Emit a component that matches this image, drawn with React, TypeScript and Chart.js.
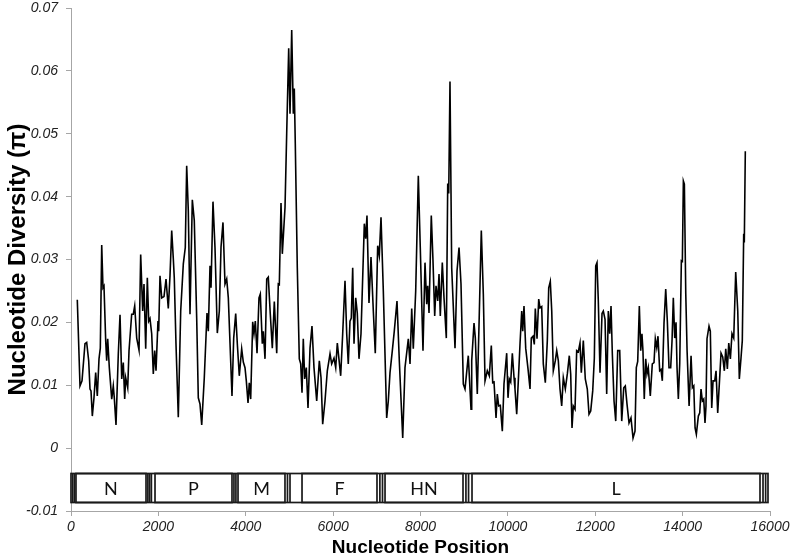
import { useEffect, useRef } from 'react';
import { Chart, registerables } from 'chart.js';

Chart.register(...registerables);

// Window midpoints (nt) and nucleotide diversity (pi)
const positions = [
  144, 206, 252, 320, 359, 405, 435, 458, 488, 526,
  565, 602, 641, 671, 703, 732, 755, 794, 817, 840,
  877, 932, 968, 991, 1030, 1083, 1122, 1161, 1197, 1229,
  1252, 1298, 1328, 1389, 1426, 1458, 1504, 1557, 1595, 1641,
  1671, 1710, 1747, 1779, 1808, 1847, 1884, 1916, 1946, 1991,
  2007, 2037, 2076, 2129, 2175, 2227, 2266, 2305, 2342, 2364,
  2403, 2456, 2511, 2571, 2616, 2648, 2685, 2724, 2777, 2822,
  2877, 2914, 2953, 2992, 3051, 3113, 3143, 3182, 3205, 3250,
  3296, 3349, 3395, 3434, 3479, 3525, 3564, 3601, 3685, 3724,
  3770, 3807, 3852, 3907, 3944, 3983, 4013, 4052, 4081, 4113,
  4159, 4189, 4219, 4258, 4303, 4333, 4379, 4402, 4441, 4480,
  4516, 4562, 4608, 4654, 4709, 4745, 4768, 4807, 4837, 4899,
  4937, 4983, 5013, 5052, 5089, 5111, 5134, 5180, 5226, 5258,
  5288, 5317, 5349, 5386, 5425, 5471, 5516, 5562, 5624, 5684,
  5723, 5761, 5814, 5867, 5929, 5967, 6020, 6059, 6096, 6173,
  6219, 6272, 6311, 6347, 6386, 6416, 6448, 6478, 6517, 6553,
  6592, 6638, 6714, 6746, 6775, 6821, 6867, 6920, 6965, 7020,
  7057, 7096, 7149, 7226, 7263, 7302, 7355, 7400, 7462, 7515,
  7593, 7645, 7721, 7760, 7799, 7835, 7890, 7950, 7995, 8057,
  8103, 8142, 8165, 8195, 8247, 8286, 8325, 8355, 8394, 8424,
  8453, 8499, 8538, 8591, 8623, 8646, 8675, 8714, 8790, 8836,
  8882, 8927, 8980, 9019, 9094, 9156,
  9172, 9225, 9255, 9300, 9346, 9392, 9438, 9477, 9529, 9575,
  9621, 9653, 9683, 9729, 9758, 9790, 9827, 9873, 9911, 9973,
  10003, 10033, 10065, 10102, 10141, 10163, 10202, 10239, 10278, 10317,
  10340, 10369, 10408, 10461, 10507, 10536, 10575, 10605, 10628, 10667,
  10706, 10735, 10774, 10811, 10857, 10903, 10935, 10971, 11004, 11040,
  11086, 11118, 11155, 11193, 11232, 11269, 11315, 11361, 11406, 11438,
  11468, 11498, 11537, 11575, 11612, 11651, 11681, 11727, 11772, 11818,
  11857, 11896, 11942, 11979, 12011, 12040, 12070, 12109, 12155, 12185,
  12224, 12262, 12299, 12331, 12361, 12391, 12430, 12469, 12514, 12560,
  12606, 12652, 12688, 12727, 12773, 12818, 12865, 12910, 12940, 12972,
  13009, 13041, 13069, 13092, 13122, 13155, 13184, 13214, 13260, 13306,
  13345, 13375, 13407, 13436, 13475, 13505, 13535, 13574, 13613, 13650,
  13688, 13727, 13757, 13787, 13819, 13849, 13872, 13902, 13934, 13971,
  13994, 14017, 14040, 14072, 14102, 14148, 14193, 14223, 14255, 14285,
  14314, 14360, 14392, 14421, 14452, 14483, 14512, 14535, 14558, 14604,
  14634, 14666, 14696, 14735, 14765, 14803, 14840, 14879, 14918, 14955,
  14987, 15024, 15056, 15093, 15130, 15170, 15215, 15262, 15298, 15336,
  15366, 15398, 15412, 15435,
];

const diversity = [
  0.0236, 0.0099, 0.0107, 0.0166, 0.0168, 0.0139, 0.0094, 0.0091, 0.0051, 0.0080,
  0.0120, 0.0083, 0.0142, 0.0159, 0.0323, 0.0255, 0.0258, 0.0171, 0.0139, 0.0174,
  0.0128, 0.0078, 0.0099, 0.0080, 0.0037, 0.0150, 0.0212, 0.0110, 0.0136, 0.0078,
  0.0112, 0.0096, 0.0155, 0.0213, 0.0213, 0.0226, 0.0175, 0.0156, 0.0308, 0.0218,
  0.0261, 0.0158, 0.0271, 0.0202, 0.0206, 0.0182, 0.0118, 0.0155, 0.0123, 0.0202,
  0.0186, 0.0274, 0.0239, 0.0241, 0.0269, 0.0222, 0.0274, 0.0346, 0.0301, 0.0271,
  0.0166, 0.0049, 0.0218, 0.0293, 0.0319, 0.0449, 0.0378, 0.0213, 0.0395, 0.0362,
  0.0207, 0.0080, 0.0070, 0.0037, 0.0112, 0.0215, 0.0186, 0.0290, 0.0255, 0.0392,
  0.0319, 0.0183, 0.0218, 0.0320, 0.0359, 0.0261, 0.0269, 0.0239, 0.0083, 0.0175,
  0.0214, 0.0166, 0.0115, 0.0158, 0.0137, 0.0128, 0.0107, 0.0072, 0.0104, 0.0078,
  0.0201, 0.0182, 0.0202, 0.0151, 0.0239, 0.0245, 0.0166, 0.0186, 0.0142, 0.0269,
  0.0272, 0.0213, 0.0159, 0.0233, 0.0151, 0.0261, 0.0260, 0.0390, 0.0309, 0.0383,
  0.0500, 0.0636, 0.0532, 0.0665, 0.0532, 0.0572, 0.0484, 0.0287, 0.0142, 0.0134,
  0.0088, 0.0174, 0.0110, 0.0128, 0.0064, 0.0159, 0.0194, 0.0128, 0.0075, 0.0139,
  0.0112, 0.0038, 0.0075, 0.0123, 0.0150, 0.0134, 0.0143, 0.0128, 0.0167, 0.0115,
  0.0182, 0.0266, 0.0182, 0.0134, 0.0202, 0.0207, 0.0287, 0.0166, 0.0239, 0.0215,
  0.0142, 0.0182, 0.0357, 0.0333, 0.0370, 0.0231, 0.0304, 0.0218, 0.0151, 0.0322,
  0.0306, 0.0367, 0.0250, 0.0048, 0.0075, 0.0120, 0.0155, 0.0186, 0.0234, 0.0139,
  0.0016, 0.0128, 0.0174, 0.0134, 0.0222, 0.0158, 0.0250, 0.0433, 0.0319, 0.0155,
  0.0295, 0.0229, 0.0258, 0.0215, 0.0370, 0.0298, 0.0210, 0.0258, 0.0234, 0.0277,
  0.0210, 0.0295, 0.0239, 0.0175, 0.0421, 0.0405, 0.0583, 0.0287, 0.0159, 0.0282,
  0.0319, 0.0261, 0.0102, 0.0094, 0.0147, 0.0062,
  0.0139, 0.0199, 0.0175, 0.0086, 0.0214, 0.0346, 0.0245, 0.0107, 0.0123, 0.0115,
  0.0163, 0.0104, 0.0105, 0.0048, 0.0086, 0.0067, 0.0068, 0.0027, 0.0102, 0.0151,
  0.0080, 0.0110, 0.0105, 0.0151, 0.0112, 0.0094, 0.0054, 0.0107, 0.0166, 0.0218,
  0.0186, 0.0226, 0.0159, 0.0126, 0.0094, 0.0175, 0.0178, 0.0165, 0.0222, 0.0174,
  0.0237, 0.0223, 0.0225, 0.0134, 0.0104, 0.0171, 0.0255, 0.0265, 0.0218, 0.0123,
  0.0139, 0.0155, 0.0139, 0.0094, 0.0067, 0.0112, 0.0094, 0.0118, 0.0147, 0.0118,
  0.0032, 0.0067, 0.0062, 0.0155, 0.0153, 0.0167, 0.0120, 0.0171, 0.0110, 0.0094,
  0.0054, 0.0059, 0.0091, 0.0143, 0.0290, 0.0295, 0.0234, 0.0120, 0.0214, 0.0218,
  0.0205, 0.0086, 0.0218, 0.0182, 0.0226, 0.0150, 0.0075, 0.0043, 0.0155, 0.0155,
  0.0043, 0.0096, 0.0099, 0.0070, 0.0040, 0.0048, 0.0016, 0.0027, 0.0128, 0.0138,
  0.0226, 0.0155, 0.0182, 0.0155, 0.0078, 0.0142, 0.0118, 0.0128, 0.0083, 0.0134,
  0.0136, 0.0174, 0.0160, 0.0178, 0.0123, 0.0125, 0.0107, 0.0199, 0.0253, 0.0202,
  0.0128, 0.0128, 0.0170, 0.0239, 0.0175, 0.0200, 0.0128, 0.0078, 0.0135, 0.0298,
  0.0297, 0.0425, 0.0420, 0.0245, 0.0155, 0.0067, 0.0147, 0.0096, 0.0099, 0.0032,
  0.0022, 0.0051, 0.0056, 0.0094, 0.0075, 0.0078, 0.0040, 0.0067, 0.0174, 0.0194,
  0.0186, 0.0064, 0.0107, 0.0107, 0.0123, 0.0056, 0.0102, 0.0151, 0.0145, 0.0123,
  0.0158, 0.0126, 0.0167, 0.0142, 0.0182, 0.0175, 0.0280, 0.0218, 0.0110, 0.0143,
  0.0171, 0.0341, 0.0327, 0.0472,
];

// Genome map
const geneNames = ['N', 'P', 'M', 'F', 'HN', 'L'];
const geneStarts = [114, 1923, 3823, 5288, 7188, 9179];
const geneEnds = [1717, 3685, 4898, 7004, 8973, 15771];
const boundaryMarks = [40, 80, 1760, 1800, 1840, 3730, 3775, 4955, 5013, 7070, 7130, 9040, 9100, 15840, 15900];
const genomeStart = 0;
const genomeEnd = 15954;
const mapTop = -0.004;
const mapBottom = -0.0086;

// Axes
const xMin = 0;
const xMax = 16000;
const xStep = 2000;
const yMin = -0.01;
const yMax = 0.07;
const yStep = 0.01;

const FONT = "'Liberation Sans', Arial, sans-serif";
const AXIS_GRAY = '#a6a6a6';

const geneMapPlugin = {
  id: 'geneMap',
  afterDatasetsDraw(chart: any) {
    const { ctx } = chart;
    const xs = chart.scales.x;
    const ys = chart.scales.y;
    const px = (v: number) => xs.getPixelForValue(v);
    const top = Math.round(ys.getPixelForValue(mapTop)) + 0.5;
    const bottom = Math.round(ys.getPixelForValue(mapBottom)) + 0.5;
    ctx.save();
    ctx.lineWidth = 1.7;
    ctx.strokeStyle = '#1a1a1a';
    ctx.fillStyle = '#ffffff';
    const g0 = px(genomeStart);
    const g1 = px(genomeEnd);
    ctx.fillRect(g0, top, g1 - g0, bottom - top);
    ctx.strokeRect(g0, top, g1 - g0, bottom - top);
    boundaryMarks.forEach((m) => {
      const x = px(m);
      ctx.beginPath();
      ctx.moveTo(x, top);
      ctx.lineTo(x, bottom);
      ctx.stroke();
    });
    geneNames.forEach((name, i) => {
      const a = px(geneStarts[i]);
      const b = px(geneEnds[i]);
      ctx.strokeRect(a, top, b - a, bottom - top);
      ctx.fillStyle = '#111111';
      ctx.font = "18px Lato, 'Open Sans', sans-serif";
      ctx.textAlign = 'center';
      ctx.textBaseline = 'middle';
      ctx.fillText(name, (a + b) / 2, (top + bottom) / 2 + 1);
    });
    ctx.restore();
  },
};

export default function App() {
  const canvasRef = useRef<HTMLCanvasElement | null>(null);

  useEffect(() => {
    if (!canvasRef.current) return;
    const chart = new Chart(canvasRef.current, {
      type: 'line',
      data: {
        datasets: [
          {
            data: positions.map((p, i) => ({ x: p, y: diversity[i] })),
            borderColor: '#000000',
            borderWidth: 1.6,
            pointRadius: 0,
            tension: 0,
            fill: false,
          },
        ],
      },
      options: {
        animation: false,
        responsive: true,
        maintainAspectRatio: false,
        layout: { padding: { left: 0, right: 23, top: 0, bottom: 0 } },
        plugins: { legend: { display: false }, tooltip: { enabled: false } },
        scales: {
          x: {
            type: 'linear',
            min: xMin,
            max: xMax,
            ticks: {
              stepSize: xStep,
              autoSkip: false,
              maxRotation: 0,
              padding: 3,
              color: '#222222',
              font: { family: FONT, size: 14, style: 'italic' },
              callback: (v: any) => String(v),
            },
            grid: { drawOnChartArea: false, drawTicks: true, tickLength: 5, color: AXIS_GRAY },
            border: { display: true, color: AXIS_GRAY, width: 1 },
            title: {
              display: true,
              text: 'Nucleotide Position',
              color: '#000000',
              font: { family: FONT, size: 19, weight: 'bold', lineHeight: 1 },
              padding: { top: 0, bottom: 0.5 },
            },
            afterFit: (s: any) => {
              s.height = 47;
            },
          },
          y: {
            type: 'linear',
            min: yMin,
            max: yMax,
            ticks: {
              stepSize: yStep,
              padding: 8,
              color: '#222222',
              font: { family: FONT, size: 14, style: 'italic' },
              callback: (v: any) => {
                const r = Math.round(Number(v) * 100) / 100;
                return r === 0 ? '0' : r.toFixed(2);
              },
            },
            grid: { drawOnChartArea: false, drawTicks: true, tickLength: 5, color: AXIS_GRAY },
            border: { display: true, color: AXIS_GRAY, width: 1 },
            title: {
              display: true,
              text: 'Nucleotide Diversity (π)',
              color: '#000000',
              font: { family: FONT, size: 24, weight: 'bold', lineHeight: 1 },
              padding: { top: 6, bottom: 0 },
            },
            afterFit: (s: any) => {
              s.width = 71;
              s.paddingTop = 8;
            },
          },
        },
      },
      plugins: [geneMapPlugin],
    } as any);
    return () => chart.destroy();
  }, []);

  return (
    <div style={{ position: 'fixed', left: 0, top: 0, width: 793, height: 558, background: '#ffffff' }}>
      <canvas ref={canvasRef} />
    </div>
  );
}
